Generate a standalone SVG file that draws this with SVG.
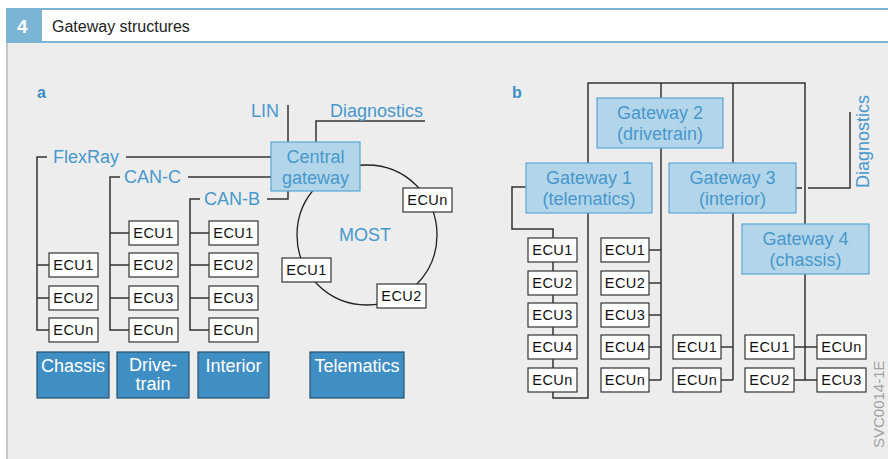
<svg xmlns="http://www.w3.org/2000/svg" width="888" height="459" viewBox="0 0 888 459">
<style>
text{font-family:"Liberation Sans",Arial,sans-serif}
.ln{fill:none;stroke:#333;stroke-width:1.5}
.ecu rect{fill:#fff;stroke:#333;stroke-width:1.2}
.ecu text{font-size:14.5px;fill:#111;text-anchor:middle;letter-spacing:0.4px}
.gw rect{fill:#b2d5ea;stroke:#5aa7d7;stroke-width:1.2}
.gw text,.bl{font-size:18px;fill:#4898cd;text-anchor:middle}
.cat rect{fill:#3f8fc4;stroke:#24506e;stroke-width:1.2}
.cat text{font-size:18px;fill:#fff;text-anchor:middle}
.lbl{font-size:18px;fill:#4898cd}
</style>
<rect x="0" y="0" width="888" height="459" fill="#fff"/>
<rect x="6" y="43" width="882" height="416" fill="#ecedec"/>
<rect x="6" y="43" width="2" height="416" fill="#c6c7c7"/>
<rect x="6" y="8" width="882" height="35" fill="#7cb4d6"/>
<rect x="42" y="10" width="846" height="31" fill="#fff"/>
<text x="17" y="33" font-size="19" font-weight="bold" fill="#fff">4</text>
<text x="52" y="32" font-size="16" fill="#222">Gateway structures</text>
<text x="37" y="98" font-size="16" font-weight="bold" fill="#3f8fc4">a</text>
<text x="512" y="98" font-size="16" font-weight="bold" fill="#3f8fc4">b</text>
<text transform="translate(884,448) rotate(-90)" font-size="15" fill="#a0a2a2">SVC0014-1E</text>

<g id="connectors">
<path class="ln" d="M288,105V142M425,121H316V142"/>
<path class="ln" d="M126,157H271M47,157H37V330H49M37,265H49M37,298H49"/>
<path class="ln" d="M188,177H271M120,177H110V330H129M110,233H129M110,265H129M110,298H129"/>
<path class="ln" d="M267,199H288V191M200,199H190V330H209M190,233H209M190,265H209M190,298H209"/>
<circle cx="367" cy="235" r="70" fill="none" stroke="#222" stroke-width="1.3"/>
<path class="ln" d="M588,163V83H805V224M661,83V98M733,83V163"/>
<path class="ln" d="M796,188H802M808,188H850V112"/>
<path class="ln" d="M526,187H512V229H553V398H588V213"/>
<path class="ln" d="M661,148V380M649,250H661M649,283H661M649,315H661M649,347H661M649,380H661"/>
<path class="ln" d="M733,213V380M721,347H733M721,380H733"/>
<path class="ln" d="M805,274V380M794,347H817M794,380H817"/>
</g>

<g id="labels">
<text class="lbl" x="251" y="117">LIN</text>
<text class="lbl" x="330" y="117">Diagnostics</text>
<text class="lbl" x="53" y="163">FlexRay</text>
<text class="lbl" x="124" y="183">CAN-C</text>
<text class="lbl" x="204" y="205">CAN-B</text>
<text class="bl" x="365" y="241">MOST</text>
<text class="lbl" transform="translate(869,188) rotate(-90)">Diagnostics</text>
</g>

<g id="central-gateway" class="gw"><rect x="271" y="142" width="89" height="49"/><text x="315.5" y="163">Central</text><text x="315.5" y="184">gateway</text></g>

<g id="a-chassis-ecu1" class="ecu"><rect x="49" y="253" width="49" height="24"/><text x="73.5" y="270">ECU1</text></g>
<g id="a-chassis-ecu2" class="ecu"><rect x="49" y="286" width="49" height="24"/><text x="73.5" y="303">ECU2</text></g>
<g id="a-chassis-ecun" class="ecu"><rect x="49" y="318" width="49" height="24"/><text x="73.5" y="335">ECUn</text></g>

<g id="a-drive-ecu1" class="ecu"><rect x="129" y="221" width="49" height="24"/><text x="153.5" y="238">ECU1</text></g>
<g id="a-drive-ecu2" class="ecu"><rect x="129" y="253" width="49" height="24"/><text x="153.5" y="270">ECU2</text></g>
<g id="a-drive-ecu3" class="ecu"><rect x="129" y="286" width="49" height="24"/><text x="153.5" y="303">ECU3</text></g>
<g id="a-drive-ecun" class="ecu"><rect x="129" y="318" width="49" height="24"/><text x="153.5" y="335">ECUn</text></g>

<g id="a-int-ecu1" class="ecu"><rect x="209" y="221" width="49" height="24"/><text x="233.5" y="238">ECU1</text></g>
<g id="a-int-ecu2" class="ecu"><rect x="209" y="253" width="49" height="24"/><text x="233.5" y="270">ECU2</text></g>
<g id="a-int-ecu3" class="ecu"><rect x="209" y="286" width="49" height="24"/><text x="233.5" y="303">ECU3</text></g>
<g id="a-int-ecun" class="ecu"><rect x="209" y="318" width="49" height="24"/><text x="233.5" y="335">ECUn</text></g>

<g id="most-ecun" class="ecu"><rect x="403" y="188" width="49" height="24"/><text x="427.5" y="205">ECUn</text></g>
<g id="most-ecu1" class="ecu"><rect x="282" y="258" width="49" height="24"/><text x="306.5" y="275">ECU1</text></g>
<g id="most-ecu2" class="ecu"><rect x="377" y="284" width="49" height="24"/><text x="401.5" y="301">ECU2</text></g>

<g id="cat-chassis" class="cat"><rect x="37" y="352" width="72" height="46"/><text x="73" y="372">Chassis</text></g>
<g id="cat-drivetrain" class="cat"><rect x="117" y="352" width="72" height="46"/><text x="153" y="371" font-size="17">Drive-</text><text x="153" y="390" font-size="17">train</text></g>
<g id="cat-interior" class="cat"><rect x="198" y="352" width="71" height="46"/><text x="233.5" y="372">Interior</text></g>
<g id="cat-telematics" class="cat"><rect x="310" y="352" width="94" height="46"/><text x="357" y="372">Telematics</text></g>

<g id="gateway2" class="gw"><rect x="597" y="98" width="126" height="50"/><text x="660" y="119">Gateway 2</text><text x="660" y="140">(drivetrain)</text></g>
<g id="gateway1" class="gw"><rect x="526" y="163" width="126" height="50"/><text x="589" y="184">Gateway 1</text><text x="589" y="205">(telematics)</text></g>
<g id="gateway3" class="gw"><rect x="669" y="163" width="127" height="50"/><text x="732.5" y="184">Gateway 3</text><text x="732.5" y="205">(interior)</text></g>
<g id="gateway4" class="gw"><rect x="742" y="224" width="127" height="50"/><text x="805.5" y="245">Gateway 4</text><text x="805.5" y="266">(chassis)</text></g>

<g id="b-tel-ecu1" class="ecu"><rect x="528" y="238" width="49" height="24"/><text x="552.5" y="255">ECU1</text></g>
<g id="b-tel-ecu2" class="ecu"><rect x="528" y="271" width="49" height="24"/><text x="552.5" y="288">ECU2</text></g>
<g id="b-tel-ecu3" class="ecu"><rect x="528" y="303" width="49" height="24"/><text x="552.5" y="320">ECU3</text></g>
<g id="b-tel-ecu4" class="ecu"><rect x="528" y="335" width="49" height="24"/><text x="552.5" y="352">ECU4</text></g>
<g id="b-tel-ecun" class="ecu"><rect x="528" y="368" width="49" height="24"/><text x="552.5" y="385">ECUn</text></g>

<g id="b-drv-ecu1" class="ecu"><rect x="601" y="238" width="48" height="24"/><text x="625" y="255">ECU1</text></g>
<g id="b-drv-ecu2" class="ecu"><rect x="601" y="271" width="48" height="24"/><text x="625" y="288">ECU2</text></g>
<g id="b-drv-ecu3" class="ecu"><rect x="601" y="303" width="48" height="24"/><text x="625" y="320">ECU3</text></g>
<g id="b-drv-ecu4" class="ecu"><rect x="601" y="335" width="48" height="24"/><text x="625" y="352">ECU4</text></g>
<g id="b-drv-ecun" class="ecu"><rect x="601" y="368" width="48" height="24"/><text x="625" y="385">ECUn</text></g>

<g id="b-int-ecu1" class="ecu"><rect x="673" y="335" width="48" height="24"/><text x="697" y="352">ECU1</text></g>
<g id="b-int-ecun" class="ecu"><rect x="673" y="368" width="48" height="24"/><text x="697" y="385">ECUn</text></g>

<g id="b-ch-ecu1" class="ecu"><rect x="745" y="335" width="49" height="24"/><text x="769.5" y="352">ECU1</text></g>
<g id="b-ch-ecu2" class="ecu"><rect x="745" y="368" width="49" height="24"/><text x="769.5" y="385">ECU2</text></g>
<g id="b-ch-ecun" class="ecu"><rect x="817" y="335" width="49" height="24"/><text x="841.5" y="352">ECUn</text></g>
<g id="b-ch-ecu3" class="ecu"><rect x="817" y="368" width="49" height="24"/><text x="841.5" y="385">ECU3</text></g>
</svg>
